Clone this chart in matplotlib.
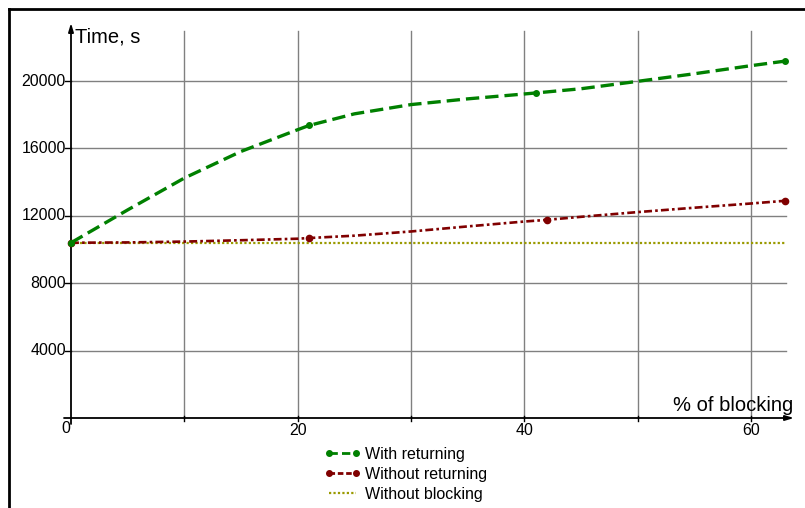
import matplotlib.pyplot as plt
from matplotlib.lines import Line2D
import matplotlib.transforms as mtransforms

# readings taken off the curves of the picture
x_curve = [0, 5, 10, 15, 20, 21, 25, 30, 35, 40, 41, 45, 50, 55, 60, 63]
with_returning = [10400, 12350, 14240, 15820, 17110, 17360, 18050, 18600, 18940,
                  19230, 19290, 19540, 19980, 20430, 20910, 21180]
x_red = [0, 5, 10, 15, 20, 21, 25, 30, 35, 40, 42, 45, 50, 55, 60, 63]
without_returning = [10400, 10420, 10470, 10550, 10640, 10680, 10820, 11070, 11370,
                     11660, 11760, 11940, 12220, 12480, 12730, 12890]
green_marks = [0, 5, 10, 15]      # indexes of the computed points (0, 21, 41, 63)
red_marks = [0, 5, 10, 15]
x_flat = [0, 63]
without_blocking = [10400, 10400]

x_ticks = [20, 40, 60]
x_grid = [10, 20, 30, 40, 50, 60]
y_ticks = [4000, 8000, 12000, 16000, 20000]

GREEN = '#008000'
RED = '#800000'
OLIVE = '#9a9a00'
GRID = '#808080'
FONT = 'Liberation Sans'

fig = plt.figure(figsize=(8.05, 5.08), dpi=100)
W, H = 805, 508

# axes placed so that 0 -> px 71, 60 -> px 751, y 0 -> px 418, 20000 -> px 81
px_per_x = (751 - 71) / 60.0
px_per_y = (418 - 81) / 20000.0
left_px, right_px, top_px, bot_px = 40, 805, 15, 440
ax = fig.add_axes([left_px / W, 1 - bot_px / H, (right_px - left_px) / W, (bot_px - top_px) / H])
ax.set_xlim((left_px - 71) / px_per_x, (right_px - 71) / px_per_x)
ax.set_ylim((418 - bot_px) / px_per_y, (418 - top_px) / px_per_y)
ax.axis('off')

x_end = (786 - 71) / px_per_x
y_top = (418 - 31) / px_per_y

# grid
for gx in x_grid:
    ax.plot([gx, gx], [0, y_top], color=GRID, lw=1, zorder=1)
for gy in y_ticks:
    ax.plot([0, x_end], [gy, gy], color=GRID, lw=1, zorder=1)

# axes with arrows
x_arrow = (794 - 71) / px_per_x
y_arrow = (418 - 23) / px_per_y
ax.annotate('', xy=(x_arrow, 0), xytext=(-7 / px_per_x, 0),
            arrowprops=dict(arrowstyle='-|>,head_length=0.5,head_width=0.15', color='black', lw=1.3,
                            shrinkA=0, shrinkB=0), zorder=2)
ax.annotate('', xy=(0, y_arrow), xytext=(0, -6 / px_per_y),
            arrowprops=dict(arrowstyle='-|>,head_length=0.5,head_width=0.15', color='black', lw=1.3,
                            shrinkA=0, shrinkB=0), zorder=2)

# tick marks
for gx in x_grid:
    ax.plot([gx, gx], [-2.5 / px_per_y, 2.5 / px_per_y], color='black', lw=1, zorder=2)
for gy in y_ticks:
    ax.plot([-6 / px_per_x, 0], [gy, gy], color='black', lw=1, zorder=2)

# tick labels
ylab_tr = mtransforms.offset_copy(ax.transData, fig=fig, x=-5, y=0, units='dots')
for gy in y_ticks:
    ax.text(0, gy, str(gy), transform=ylab_tr, ha='right', va='center',
            fontsize=11.5, family=FONT)
xlab_tr = mtransforms.offset_copy(ax.transData, fig=fig, x=0, y=-5, units='dots')
for gx in x_ticks:
    ax.text(gx, 0, str(gx), transform=xlab_tr, ha='center', va='top',
            fontsize=11.5, family=FONT)
zero_tr = mtransforms.offset_copy(ax.transData, fig=fig, x=-1, y=-3, units='dots')
ax.text(0, 0, '0', transform=zero_tr, ha='right', va='top', fontsize=11.5, family=FONT)

ax.text(4 / px_per_x, (418 - 42) / px_per_y, 'Time, s', ha='left', va='baseline',
        fontsize=14.5, family=FONT)
ax.text((793 - 71) / px_per_x, (418 - 411) / px_per_y, '% of blocking', ha='right',
        va='baseline', fontsize=14.5, family=FONT)

# series
ax.plot(x_flat, without_blocking, color=OLIVE, lw=1.6, dashes=(1, 1), zorder=3)
ax.plot(x_red, without_returning, color=RED, lw=1.9, dashes=(3, 1.2, 1, 1.2),
        marker='o', markersize=4.5, markevery=red_marks, zorder=4)
ax.plot(x_curve, with_returning, color=GREEN, lw=2.4, dashes=(4, 1.8),
        marker='o', markersize=4, markevery=green_marks, zorder=5)

# legend
handles = [
    Line2D([], [], color=GREEN, lw=2, dashes=(3, 1.5), marker='o', markersize=4),
    Line2D([], [], color=RED, lw=2, dashes=(2, 1), marker='o', markersize=4),
    Line2D([], [], color=OLIVE, lw=1.6, dashes=(1, 1)),
]
fig.legend(handles, ['With returning', 'Without returning', 'Without blocking'],
           loc='upper left', bbox_to_anchor=(324 / W, 1 - 447 / H), frameon=False,
           prop={'family': FONT, 'size': 11.5}, handlelength=2.3, handletextpad=0.25,
           labelspacing=0.3, numpoints=2, borderpad=0, borderaxespad=0)

# outer frame (left and top only visible in the picture)
fig.add_artist(Line2D([9 / W, 9 / W], [0, 1 - 9 / H], color='black', lw=2,
                      transform=fig.transFigure))
fig.add_artist(Line2D([9 / W, 1], [1 - 9 / H, 1 - 9 / H], color='black', lw=2,
                      transform=fig.transFigure))

fig.savefig('out.png', dpi=100)
